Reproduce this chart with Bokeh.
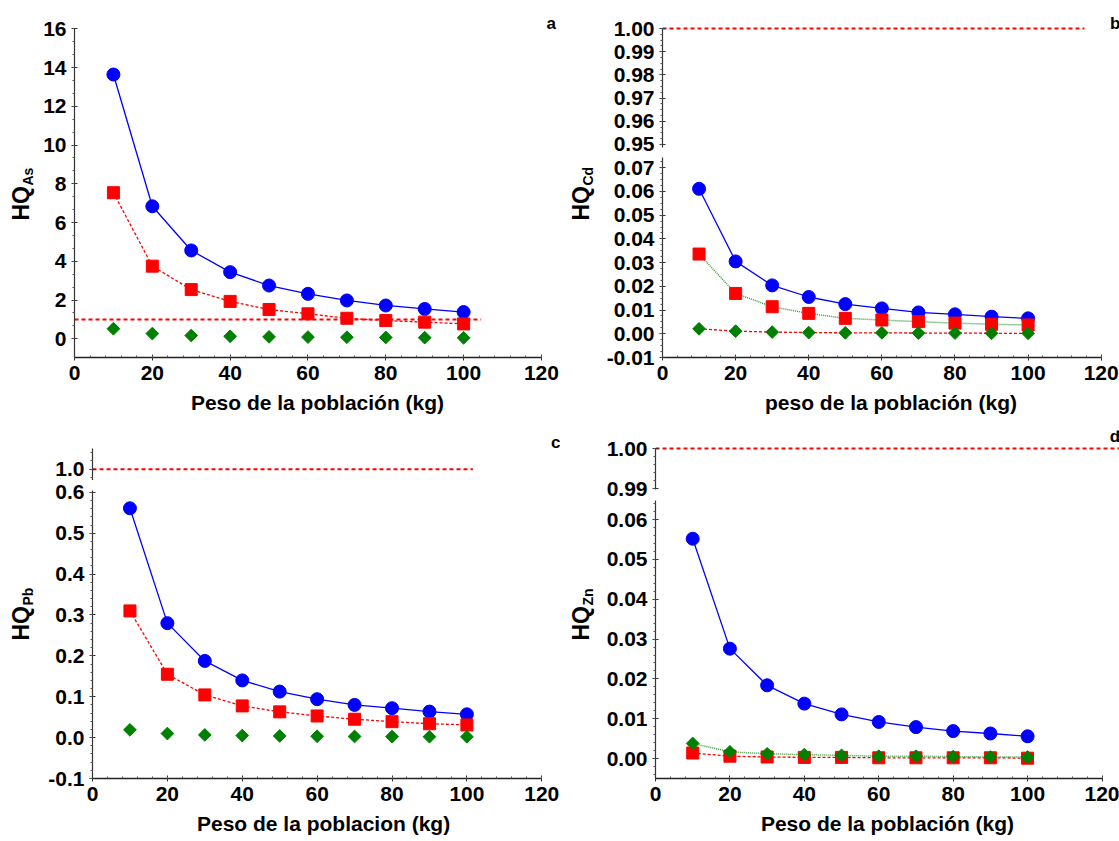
import numpy as np
from bokeh.plotting import figure
from bokeh.layouts import row, column
from bokeh.models import Range1d, FixedTicker, PrintfTickFormatter
from bokeh.core.properties import value
from bokeh.embed import file_html
from bokeh.resources import INLINE

# ---------------- data ----------------
weight = [10, 20, 30, 40, 50, 60, 70, 80, 90, 100]

as_circle = [13.64, 6.84, 4.56, 3.44, 2.75, 2.32, 1.98, 1.72, 1.54, 1.38]
as_square = [7.54, 3.75, 2.54, 1.93, 1.51, 1.29, 1.06, 0.94, 0.86, 0.77]
as_diamond = [0.52, 0.27, 0.17, 0.13, 0.10, 0.09, 0.08, 0.07, 0.06, 0.05]

cd_circle = [0.0611, 0.0305, 0.0204, 0.0155, 0.0125, 0.0107, 0.0090, 0.0082, 0.0072, 0.0065]
cd_square = [0.0336, 0.0170, 0.0114, 0.0086, 0.0065, 0.0058, 0.0051, 0.0045, 0.0040, 0.0037]
cd_diamond = [0.0021, 0.0011, 0.0007, 0.0005, 0.0004, 0.0004, 0.0003, 0.0003, 0.0002, 0.0002]

pb_circle = [0.561, 0.280, 0.1876, 0.140, 0.1126, 0.094, 0.080, 0.072, 0.0636, 0.057]
pb_square = [0.310, 0.155, 0.1045, 0.0776, 0.063, 0.053, 0.045, 0.039, 0.034, 0.031]
pb_diamond = [0.019, 0.010, 0.0066, 0.005, 0.004, 0.0033, 0.0028, 0.0025, 0.0022, 0.002]

zn_circle = [0.0552, 0.0276, 0.0184, 0.0138, 0.0111, 0.0092, 0.0079, 0.0069, 0.0063, 0.0056]
zn_diamond = [0.0038, 0.0017, 0.0012, 0.0010, 0.0008, 0.0006, 0.0006, 0.0005, 0.0004, 0.0004]
zn_square = [0.0014, 0.0006, 0.0004, 0.0003, 0.0003, 0.0002, 0.0002, 0.0002, 0.0002, 0.0001]

ref_y = [1.0, 1.0]
ref_x_a = [0, 104.5]
ref_x_b = [0, 115.4]
ref_x_c = [0, 101.6]
ref_x_d = [0, 124.7]

x_ticks = [0, 20, 40, 60, 80, 100, 120]
a_yticks = [0, 2, 4, 6, 8, 10, 12, 14, 16]
b_yticks_high = [0.95, 0.96, 0.97, 0.98, 0.99, 1.00]
b_yticks_low = [-0.01, 0.00, 0.01, 0.02, 0.03, 0.04, 0.05, 0.06, 0.07]
c_yticks_high = [1.0]
c_yticks_low = [-0.1, 0.0, 0.1, 0.2, 0.3, 0.4, 0.5, 0.6]
d_yticks_high = [0.99, 1.00]
d_yticks_low = [0.00, 0.01, 0.02, 0.03, 0.04, 0.05, 0.06]

x_label_a = "Peso de la población (kg)"
x_label_b = "peso de la población (kg)"
x_label_c = "Peso de la poblacion  (kg)"
x_label_d = "Peso de la población (kg)"

y_subs = ["As", "Cd", "Pb", "Zn"]
panel_letters = ["a", "b", "c", "d"]

BLUE = "#0000FF"
RED = "#FF0000"
GREEN = "#008000"
LGREEN = "#3a9d3a"
FONT = "Liberation Sans"

BT = 10   # common top border of every row
BB = 63   # common bottom border of every row


def minor(lo, hi, step):
    return [float(v) for v in np.round(np.arange(lo, hi + step / 2, step), 6)]


def make_fig(w, h, xr, yr, bl, bt, bb, show_x, yticks, yminor, yfmt, ybounds,
             xlabel=None):
    p = figure(width=w, height=h, x_range=Range1d(*xr), y_range=Range1d(*yr),
               output_backend="svg", toolbar_location=None, tools="",
               x_axis_location="below" if show_x else None,
               min_border_left=bl, min_border_right=0,
               min_border_top=bt, min_border_bottom=bb)
    p.outline_line_color = None
    p.grid.visible = False
    p.background_fill_color = "white"
    p.border_fill_color = "white"
    ya = p.yaxis[0]
    ya.ticker = FixedTicker(ticks=yticks, minor_ticks=yminor)
    ya.formatter = PrintfTickFormatter(format=yfmt)
    ya.bounds = ybounds
    ya.major_label_text_font = FONT
    ya.major_label_text_font_style = "bold"
    ya.major_label_text_font_size = "21px"
    ya.major_label_text_color = "black"
    ya.major_label_standoff = 5
    ya.axis_line_color = "#333333"
    ya.axis_line_width = 1.2
    ya.major_tick_in = 3
    ya.major_tick_out = 3
    ya.minor_tick_in = 0
    ya.minor_tick_out = 2
    ya.major_tick_line_color = "#333333"
    ya.minor_tick_line_color = "#555555"
    if show_x:
        xa = p.xaxis[0]
        xa.ticker = FixedTicker(ticks=x_ticks, minor_ticks=minor(0, 120, 4))
        xa.bounds = (0, 120)
        xa.major_label_text_font = FONT
        xa.major_label_text_font_style = "bold"
        xa.major_label_text_font_size = "21px"
        xa.major_label_text_color = "black"
        xa.major_label_standoff = 5
        xa.axis_line_color = "#222222"
        xa.axis_line_width = 1.5
        xa.major_tick_in = 3
        xa.major_tick_out = 3
        xa.minor_tick_in = 2
        xa.minor_tick_out = 0
        xa.major_tick_line_color = "#333333"
        xa.minor_tick_line_color = "#555555"
        xa.axis_label = xlabel
        xa.axis_label_text_font = FONT
        xa.axis_label_text_font_style = "bold"
        xa.axis_label_text_font_size = "21px"
        xa.axis_label_text_color = "black"
        xa.axis_label_standoff = 8
    return p


def label_fig(h, sub):
    # y value = pixels up from the bottom of this strip
    p = figure(width=40, height=h, x_range=Range1d(0, 40), y_range=Range1d(BB, h - BT),
               output_backend="svg", toolbar_location=None, tools="",
               x_axis_location=None, y_axis_location=None,
               min_border_left=0, min_border_right=0,
               min_border_top=BT, min_border_bottom=BB)
    p.outline_line_color = None
    p.grid.visible = False
    p.background_fill_color = "white"
    p.border_fill_color = "white"
    y0 = h - 220
    p.text(x=[20.0], y=[y0], text=["HQ"], angle=np.pi / 2,
           text_font=value(FONT), text_font_style="bold", text_font_size="23px",
           text_align="left", text_baseline="alphabetic", text_color="black")
    p.text(x=[27.5], y=[y0 + 35], text=[sub], angle=np.pi / 2,
           text_font=value(FONT), text_font_style="bold", text_font_size="14px",
           text_align="left", text_baseline="alphabetic", text_color="black")
    return p


def letter(p, x, y, t):
    p.text(x=[x], y=[y], text=[t], text_font=value(FONT), text_font_style="bold",
           text_font_size="17px", text_align="center", text_baseline="middle",
           text_color="black")


def markers(p, vals, marker, color, size, angle=0.0):
    p.scatter(weight, vals, marker=marker, size=size, fill_color=color,
              line_color=color, angle=angle)


def ref(p, xs):
    p.line(xs, ref_y, line_color=RED, line_width=2, line_dash="4 3")


# ---------------- panel a ----------------
pa = make_fig(520, 420, (0, 124.9), (-0.965, 16.944), 34, BT, BB, True,
              a_yticks, minor(0, 16, 2 / 3), "%d", (-0.965, 16.0), x_label_a)
ref(pa, ref_x_a)
pa.line(weight, as_circle, line_color=BLUE, line_width=1.3)
pa.line(weight, as_square, line_color=RED, line_width=1.3, line_dash="3 2")
markers(pa, as_circle, "circle", BLUE, 13)
markers(pa, as_square, "square", RED, 12)
markers(pa, as_diamond, "square", GREEN, 9, np.pi / 4)
letter(pa, 122.5, 16.27, panel_letters[0])

# ---------------- panel b ----------------
pb_top = make_fig(519, 156, (0, 125), (0.9487, 1.00776), 62, BT, 9, False,
                  b_yticks_high, minor(0.95, 1.0, 0.0025), "%.2f", (0.9487, 1.0))
ref(pb_top, ref_x_b)
letter(pb_top, 123.8, 1.0021, panel_letters[1])
pb_bot = make_fig(519, 264, (0, 125), (-0.01, 0.0743), 62, 1, BB, True,
                  b_yticks_low, minor(-0.01, 0.0725, 0.0025), "%.2f", (-0.01, 0.0743),
                  x_label_b)
pb_bot.line(weight, cd_circle, line_color=BLUE, line_width=1.3)
pb_bot.line(weight, cd_square, line_color=LGREEN, line_width=1.5, line_dash="1 1")
pb_bot.line(weight, cd_diamond, line_color=RED, line_width=1.3, line_dash="3 2")
markers(pb_bot, cd_circle, "circle", BLUE, 13)
markers(pb_bot, cd_square, "square", RED, 12)
markers(pb_bot, cd_diamond, "square", GREEN, 9, np.pi / 4)

# ---------------- panel c ----------------
pc_top = make_fig(520, 60, (0, 125), (0.9724, 1.094), 52, BT, 0, False,
                  c_yticks_high, minor(0.98, 1.04, 0.02), "%.1f", (0.9724, 1.05))
ref(pc_top, ref_x_c)
letter(pc_top, 123.7, 1.066, panel_letters[2])
pc_bot = make_fig(520, 361, (0, 125), (-0.1, 0.6045), 52, 10, BB, True,
                  c_yticks_low, minor(-0.1, 0.6, 0.02), "%.1f", (-0.1, 0.6045), x_label_c)
pc_bot.line(weight, pb_circle, line_color=BLUE, line_width=1.3)
pc_bot.line(weight, pb_square, line_color=RED, line_width=1.3, line_dash="3 2")
markers(pc_bot, pb_circle, "circle", BLUE, 13)
markers(pc_bot, pb_square, "square", RED, 12)
markers(pc_bot, pb_diamond, "square", GREEN, 9, np.pi / 4)

# ---------------- panel d ----------------
pd_top = make_fig(519, 80, (0, 124.7), (0.98975, 1.0045), 55, BT, 11, False,
                  d_yticks_high, minor(0.99, 1.0, 0.002), "%.2f", (0.98975, 1.0))
ref(pd_top, ref_x_d)
letter(pd_top, 123.5, 1.0029, panel_letters[3])
pd_bot = make_fig(519, 341, (0, 124.7), (-0.005, 0.0648), 55, 0, BB, True,
                  d_yticks_low, minor(-0.004, 0.064, 0.002), "%.2f", (-0.005, 0.0648),
                  x_label_d)
pd_bot.line(weight, zn_circle, line_color=BLUE, line_width=1.3)
pd_bot.line(weight, zn_square, line_color=RED, line_width=1.3, line_dash="3 2")
pd_bot.line(weight, zn_diamond, line_color=LGREEN, line_width=1.5, line_dash="1 1")
markers(pd_bot, zn_circle, "circle", BLUE, 13)
markers(pd_bot, zn_square, "square", RED, 12)
markers(pd_bot, zn_diamond, "square", GREEN, 9, np.pi / 4)

layout = column(
    row(label_fig(420, y_subs[0]), pa,
        label_fig(420, y_subs[1]), column(pb_top, pb_bot, spacing=0), spacing=0),
    row(label_fig(421, y_subs[2]), column(pc_top, pc_bot, spacing=0),
        label_fig(421, y_subs[3]), column(pd_top, pd_bot, spacing=0), spacing=0),
    spacing=0,
)

open("out.html", "w").write(file_html(layout, INLINE))
